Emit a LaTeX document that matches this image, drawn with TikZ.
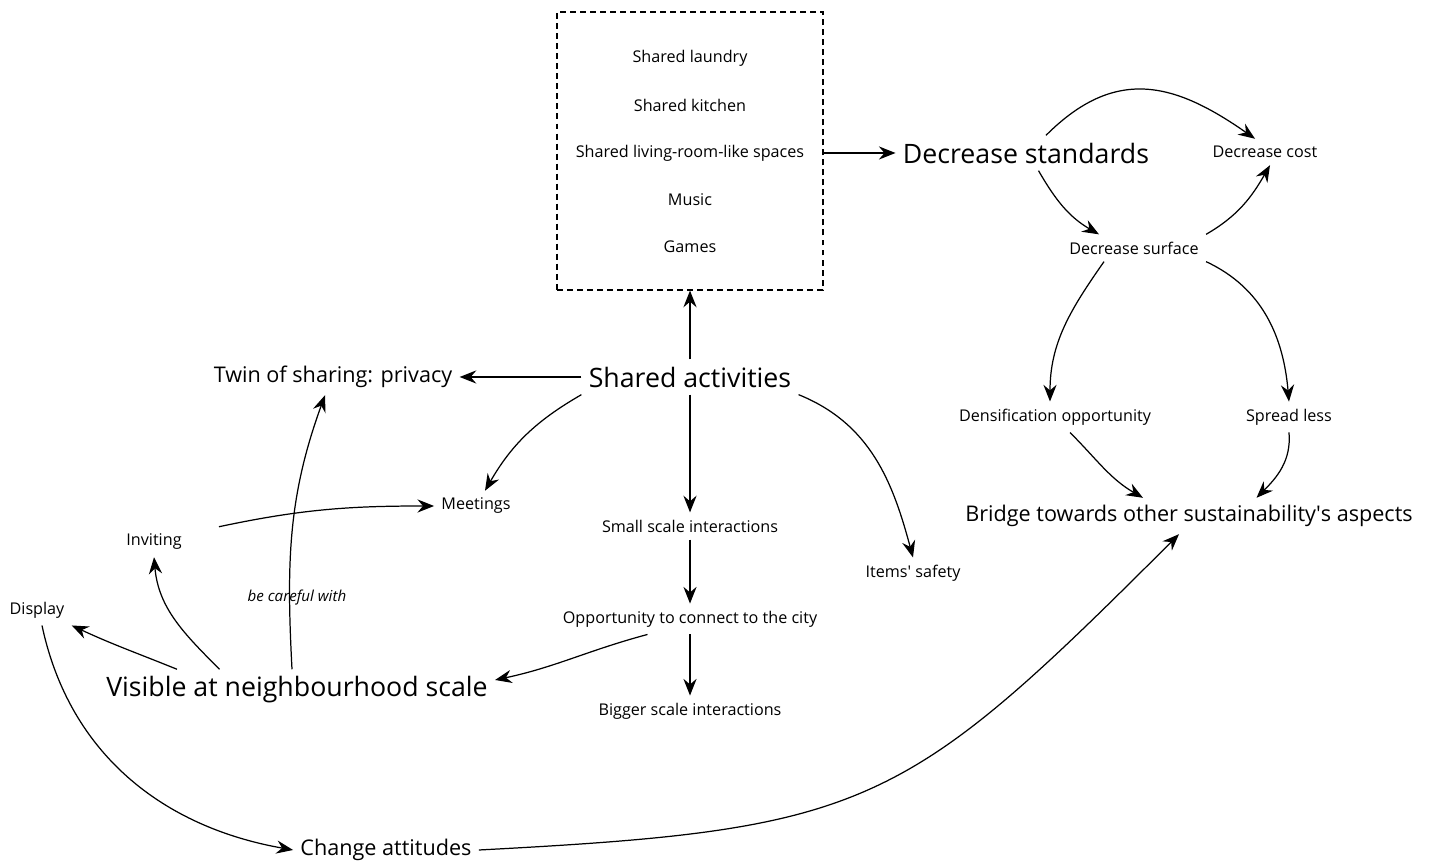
\documentclass[tikz,border=0pt]{standalone}
\usepackage{fontspec}
\setmainfont{Open Sans}
\usetikzlibrary{arrows.meta}

\begin{document}
\begin{tikzpicture}[
    item/.style={font=\fontsize{9.2}{11}\selectfont, inner sep=4pt},
    mid/.style={font=\fontsize{12.3}{15}\selectfont, inner sep=4pt},
    lead/.style={font=\fontsize{15.2}{18}\selectfont, inner sep=4pt},
    note/.style={font=\fontsize{8.6}{10}\selectfont\itshape, inner sep=1pt},
    pool/.style={draw, dash pattern=on 3.4pt off 2.3pt, line width=0.7pt, minimum width=5.32cm, minimum height=5.56cm},
    link/.style={-{Stealth[length=9.5pt,width=7.5pt,inset=3.2pt]}, line width=0.7pt}
]
\useasboundingbox (0,0) rectangle (28.68,17.32);
% shared spaces
\node[pool] (box) at (13.8,14.3) {};
\node[item] (laundry) at (13.8,16.16) {Shared laundry};
\node[item] (kitchen) at (13.8,15.22) {Shared kitchen};
\node[item] (living) at (13.8,14.26) {Shared living-room-like spaces};
\node[item] (music) at (13.8,13.32) {Music};
\node[item] (games) at (13.8,12.38) {Games};
% standards branch
\node[lead] (standards) at (20.52,14.26) {Decrease standards};
\node[item] (cost) at (25.3,14.28) {Decrease cost};
\node[item] (surface) at (22.68,12.36) {Decrease surface};
\node[item] (densify) at (21.1,8.98) {Densification opportunity};
\node[item] (spread) at (25.78,8.98) {Spread less};
\node[mid] (bridge) at (23.78,7.0) {Bridge towards other sustainability\textquotesingle s aspects};
% activities branch
\node[lead] (activities) at (13.8,9.78) {Shared activities};
\node[mid] (privacy) at (6.66,9.78) {Twin of sharing: privacy};
\node[item] (meetings) at (9.52,7.2) {Meetings};
\node[item] (small) at (13.8,6.8) {Small scale interactions};
\node[item] (safety) at (18.26,5.86) {Items\textquotesingle\ safety};
\node[item] (connect) at (13.8,4.94) {Opportunity to connect to the city};
\node[item] (bigger) at (13.8,3.1) {Bigger scale interactions};
\node[item] (inviting) at (3.08,6.48) {Inviting};
\node[item] (display) at (0.74,5.12) {Display};
\node[note] (careful) at (5.94,5.36) {be careful with};
\node[lead] (visible) at (5.94,3.52) {Visible at neighbourhood scale};
\node[mid] (attitudes) at (7.72,0.32) {Change attitudes};

\draw[link] (box.east |- standards.west) -- (standards.west);
\draw[link] ([xshift=0.4cm]standards.north) to[out=45, in=145, looseness=1.2] ([xshift=-0.2cm]cost.north);
\draw[link] ([xshift=0.25cm]standards.south) to[out=-60, in=150] ([xshift=-0.7cm]surface.north);
\draw[link] (surface.north east) to[out=30, in=-120] ([xshift=0.1cm]cost.south);
\draw[link] ([xshift=-0.6cm]surface.south) to[out=-125, in=90] ([xshift=-0.1cm]densify.north);
\draw[link] (surface.south east) to[out=-25, in=95] (spread.north);
\draw[link] ([xshift=0.3cm]densify.south) to[out=-45, in=150] ([xshift=-0.92cm]bridge.north);
\draw[link] (spread.south) to[out=-85, in=45] ([xshift=1.35cm]bridge.north);

\draw[link] (activities.north) -- (box.south);
\draw[link] (activities.west) -- (privacy.east);
\draw[link] (activities.south west) to[out=210, in=60] ([xshift=0.18cm]meetings.north);
\draw[link] (activities.south) -- (small.north);
\draw[link] (activities.south east) to[out=-22, in=105] (safety.north);
\draw[link] (small.south) -- (connect.north);
\draw[link] (connect.south) -- (bigger.north);
\draw[link] ([xshift=-0.85cm]connect.south) to[out=195, in=12] ([yshift=0.2cm]visible.east);
\draw[link] ([xshift=0.6cm]inviting.north east) to[out=12, in=180] (meetings.west);

\draw[link] ([xshift=-0.1cm]visible.north) to[out=93, in=-110] ([xshift=-0.16cm]privacy.south);
\draw[link] ([xshift=-1.55cm]visible.north) to[out=135, in=-85] (inviting.south);
\draw[link] ([xshift=-2.4cm]visible.north) to[out=158, in=-25] (display.south east);
\draw[link] ([xshift=0.1cm]display.south) to[out=-78, in=170] (attitudes.west);
\draw[link] (attitudes.east) to[out=3, in=-135, looseness=1.3] ([xshift=-0.2cm]bridge.south);
\end{tikzpicture}
\end{document}
